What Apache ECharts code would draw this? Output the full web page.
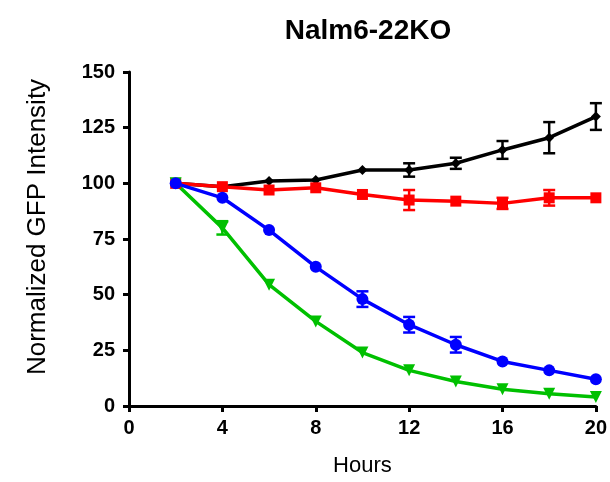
<!DOCTYPE html>
<html>
<head>
<meta charset="utf-8">
<script src="https://cdn.jsdelivr.net/npm/echarts@6/dist/echarts.min.js"></script>
<style>
  html, body { margin: 0; padding: 0; background: #fff; }
  #chart { width: 610px; height: 482px; }
</style>
</head>
<body>
<div id="chart"></div>
<script>
// time points (hours)
const hours = [2, 4, 6, 8, 10, 12, 14, 16, 18, 20];

// mean values
const blackVals = [100, 98.5, 101, 101.5, 106, 106, 109, 115, 120.5, 130];
const redVals   = [100, 98.5, 97, 98, 95, 92.5, 92, 91, 93.5, 93.5];
const blueVals  = [100, 93.5, 79, 62.5, 48, 36.5, 27.5, 20, 16, 12];
const greenVals = [100, 80, 54.5, 38, 24, 16, 11, 7.5, 5.5, 4];

// error bar half-widths (0 = hidden under the marker)
const blackErr = [0, 0, 0, 0, 0, 3, 2.5, 4, 7, 6];
const redErr   = [0, 0, 0, 0, 0, 4.5, 0, 2.5, 3.5, 0];
const blueErr  = [0, 0, 0, 0, 3.5, 3.5, 3.5, 0, 0, 0];
const greenErr = [0, 3, 0, 0, 0, 0, 0, 0, 0, 0];

const xTicks = [0, 4, 8, 12, 16, 20];
const yTicks = [0, 25, 50, 75, 100, 125, 150];

const font = 'Liberation Sans, Arial, sans-serif';

function lineSeries(vals, color, symbol, size, rotate) {
  return {
    type: 'line',
    data: hours.map((h, i) => [h, vals[i]]),
    symbol: symbol,
    symbolSize: size,
    symbolRotate: rotate || 0,
    showAllSymbol: true,
    lineStyle: { color: color, width: 3.5 },
    itemStyle: { color: color, opacity: 1 },
    z: 3
  };
}

function errSeries(vals, errs, color) {
  return {
    type: 'custom',
    data: hours.map((h, i) => [h, vals[i] - errs[i], vals[i] + errs[i], errs[i]]),
    renderItem: function (params, api) {
      if (!api.value(3)) return null;
      const lo = api.coord([api.value(0), api.value(1)]);
      const hi = api.coord([api.value(0), api.value(2)]);
      const w = 6;
      const style = { stroke: color, lineWidth: 2.5 };
      return {
        type: 'group',
        children: [
          { type: 'line', shape: { x1: lo[0], y1: lo[1], x2: hi[0], y2: hi[1] }, style: style },
          { type: 'line', shape: { x1: lo[0] - w, y1: lo[1], x2: lo[0] + w, y2: lo[1] }, style: style },
          { type: 'line', shape: { x1: hi[0] - w, y1: hi[1], x2: hi[0] + w, y2: hi[1] }, style: style }
        ]
      };
    },
    z: 4
  };
}

const chart = echarts.init(document.getElementById('chart'));
chart.setOption({
  animation: false,
  title: {
    text: 'Nalm6-22KO',
    left: 363,
    textAlign: 'center',
    top: 12,
    textStyle: { fontFamily: font, fontSize: 28, fontWeight: 'bold', color: '#000' }
  },
  grid: { left: 129, right: 13, top: 72, bottom: 71 },
  xAxis: {
    type: 'value',
    min: 0, max: 20, interval: 4,
    name: 'Hours',
    nameLocation: 'middle',
    nameGap: 49,
    nameTextStyle: { fontFamily: font, fontSize: 22, color: '#000' },
    axisLine: { lineStyle: { color: '#000', width: 3 } },
    axisTick: { length: 6, lineStyle: { color: '#000', width: 3 } },
    axisLabel: {
      margin: 12, fontFamily: font, fontSize: 20, fontWeight: 'bold', color: '#000',
      formatter: v => xTicks.includes(v) ? String(v) : ''
    },
    splitLine: { show: false }
  },
  yAxis: {
    type: 'value',
    min: 0, max: 150, interval: 25,
    name: 'Normalized GFP Intensity',
    nameLocation: 'middle',
    nameGap: 78,
    nameTextStyle: { fontFamily: font, fontSize: 26, color: '#000', padding: [0, 0, 0, 24] },
    axisLine: { lineStyle: { color: '#000', width: 3 } },
    axisTick: { length: 6, lineStyle: { color: '#000', width: 3 } },
    axisLabel: {
      margin: 14, fontFamily: font, fontSize: 20, fontWeight: 'bold', color: '#000',
      formatter: v => yTicks.includes(v) ? String(v) : ''
    },
    splitLine: { show: false }
  },
  series: [
    lineSeries(blackVals, '#000000', 'diamond', 10),
    errSeries(blackVals, blackErr, '#000000'),
    lineSeries(redVals, '#ff0000', 'rect', 11),
    errSeries(redVals, redErr, '#ff0000'),
    lineSeries(greenVals, '#00c000', 'triangle', 12, 180),
    errSeries(greenVals, greenErr, '#00c000'),
    lineSeries(blueVals, '#0000ff', 'circle', 12),
    errSeries(blueVals, blueErr, '#0000ff')
  ]
});
</script>
</body>
</html>
